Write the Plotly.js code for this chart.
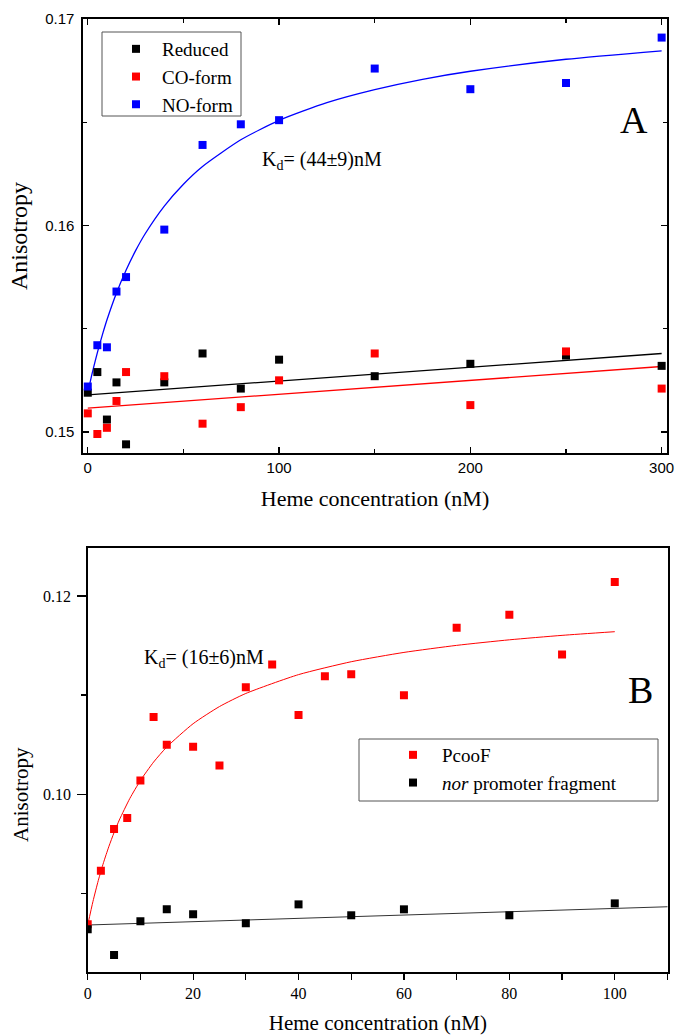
<!DOCTYPE html>
<html>
<head>
<meta charset="utf-8">
<script src="https://cdn.plot.ly/plotly-3.0.1.min.js"></script>
<style>html,body{margin:0;padding:0;background:#fff}#chart{width:678px;height:1036px}</style>
</head>
<body>
<div id="chart"></div>
<script>
// ---------- Panel A data ----------
const concA = [0, 5, 10, 15, 20, 40, 60, 80, 100, 150, 200, 250, 300];
const reduced = [0.1519, 0.1529, 0.1506, 0.1524, 0.1494, 0.1524, 0.1538, 0.1521, 0.1535, 0.1527, 0.1533, 0.1537, 0.1532];
const coForm  = [0.1509, 0.1499, 0.1502, 0.1515, 0.1529, 0.1527, 0.1504, 0.1512, 0.1525, 0.1538, 0.1513, 0.1539, 0.1521];
const noForm  = [0.1522, 0.1542, 0.1541, 0.1568, 0.1575, 0.1598, 0.1639, 0.1649, 0.1651, 0.1676, 0.1666, 0.1669, 0.1691];
// fitted lines
const lineAx = [0, 300];
const reducedFit = [0.1518, 0.1538];
const coFit = [0.15115, 0.15317];
const noFitX = [0, 2, 4, 6, 8, 10, 15, 20, 25, 30, 40, 50, 60, 80, 100, 125, 150, 175, 200, 250, 300];
const noFitY = [0.1519, 0.15273, 0.15348, 0.15418, 0.15482, 0.15542, 0.15673, 0.15783, 0.15878, 0.15960, 0.16094, 0.16200, 0.16286, 0.16415, 0.16509, 0.16595, 0.16658, 0.16708, 0.16747, 0.16805, 0.16846];

// ---------- Panel B data ----------
const concPcooF = [0, 2.5, 5, 7.5, 10, 12.5, 15, 20, 25, 30, 35, 40, 45, 50, 60, 70, 80, 90, 100];
const pcooF = [0.0869, 0.0923, 0.0965, 0.0976, 0.1014, 0.1078, 0.1050, 0.1048, 0.1029, 0.1108, 0.1131, 0.1080, 0.1119, 0.1121, 0.1100, 0.1168, 0.1181, 0.1141, 0.1214];
const concNor = [0, 5, 10, 15, 20, 30, 40, 50, 60, 80, 100];
const norFrag = [0.0864, 0.0838, 0.0872, 0.0884, 0.0879, 0.0870, 0.0889, 0.0878, 0.0884, 0.0878, 0.0890];
const pcooFitX = [0, 1, 2, 3, 4, 5, 6, 8, 10, 12.5, 15, 20, 25, 30, 40, 50, 60, 70, 80, 90, 100];
const pcooFitY = [0.08680, 0.08920, 0.09129, 0.09311, 0.09471, 0.09614, 0.09741, 0.09959, 0.10139, 0.10325, 0.10477, 0.10712, 0.10885, 0.11017, 0.11207, 0.11337, 0.11431, 0.11502, 0.11558, 0.11603, 0.11640];
const norLineX = [0, 110];
const norFit = [0.08682, 0.08866];

const SERIF = '"Liberation Serif", "Times New Roman", serif';
const SANS = '"Liberation Sans", Arial, sans-serif';
const BLUE = '#0000ff', RED = '#ff0000', BLACK = '#000000';

function line(x, y, color, xa, ya, w) {
  return {x: x, y: y, type: 'scatter', mode: 'lines', line: {color: color, width: w || 1.3, shape: 'spline', smoothing: 0.6},
          xaxis: xa, yaxis: ya, showlegend: false, hoverinfo: 'skip'};
}
function pts(x, y, color, name, xa, ya, leg) {
  return {x: x, y: y, type: 'scatter', mode: 'markers', name: name,
          marker: {symbol: 'square', size: 8, color: color}, xaxis: xa, yaxis: ya, legend: leg};
}

const data = [
  line(lineAx, reducedFit, BLACK, 'x', 'y'),
  line(lineAx, coFit, RED, 'x', 'y'),
  line(noFitX, noFitY, BLUE, 'x', 'y'),
  pts(concA, reduced, BLACK, 'Reduced', 'x', 'y', 'legend'),
  pts(concA, coForm, RED, 'CO-form', 'x', 'y', 'legend'),
  pts(concA, noForm, BLUE, 'NO-form', 'x', 'y', 'legend'),
  line(norLineX, norFit, '#333333', 'x2', 'y2', 1),
  line(pcooFitX, pcooFitY, RED, 'x2', 'y2', 1),
  pts(concPcooF, pcooF, RED, 'PcooF', 'x2', 'y2', 'legend2'),
  pts(concNor, norFrag, BLACK, '<i>nor</i> promoter fragment', 'x2', 'y2', 'legend2')
];

const W = 678, H = 1036;
const px = v => v / W, py = v => 1 - v / H;
const layout = {
  width: W, height: H,
  margin: {l: 0, r: 0, t: 0, b: 0},
  paper_bgcolor: '#ffffff', plot_bgcolor: '#ffffff',
  font: {family: SERIF, color: '#000'},
  xaxis: {
    domain: [px(83), px(667)], anchor: 'y', range: [-2.5, 302.8],
    tick0: 0, dtick: 100, ticks: 'inside', ticklen: 6, tickwidth: 1.2, tickcolor: '#000',
    minor: {dtick: 50, ticks: 'inside', ticklen: 4, tickwidth: 1.2, tickcolor: '#000'},
    showline: true, linewidth: 1.6, linecolor: '#000', mirror: 'ticks',
    showgrid: false, zeroline: false,
    tickfont: {family: SANS, size: 15, color: '#000'},
    title: {text: 'Heme concentration (nM)', font: {family: SERIF, size: 22, color: '#000'}, standoff: 16}
  },
  yaxis: {
    domain: [py(453), py(19)], anchor: 'x', range: [0.14898, 0.1700],
    tick0: 0, dtick: 0.01, tickformat: '.2f', ticks: 'inside', ticklen: 6, tickwidth: 1.2, tickcolor: '#000',
    minor: {dtick: 0.005, ticks: 'inside', ticklen: 4, tickwidth: 1.2, tickcolor: '#000'},
    showline: true, linewidth: 1.6, linecolor: '#000', mirror: 'ticks',
    showgrid: false, zeroline: false, ticklabelstandoff: 4,
    tickfont: {family: SANS, size: 15, color: '#000'},
    title: {text: 'Anisotropy', font: {family: SERIF, size: 24, color: '#000'}, standoff: 11}
  },
  xaxis2: {
    domain: [px(87.7), px(668)], anchor: 'y2', range: [0, 110.1],
    tick0: 0, dtick: 20, ticks: 'outside', ticklen: 6, tickwidth: 1.2, tickcolor: '#000',
    minor: {dtick: 10, ticks: 'outside', ticklen: 6, tickwidth: 1.2, tickcolor: '#000'},
    showline: true, linewidth: 1.6, linecolor: '#000', mirror: true,
    showgrid: false, zeroline: false,
    tickfont: {family: SERIF, size: 16, color: '#000'},
    title: {text: 'Heme concentration (nM)', font: {family: SERIF, size: 21, color: '#000'}, standoff: 14}
  },
  yaxis2: {
    domain: [py(972), py(547.7)], anchor: 'x2', range: [0.08208, 0.12487],
    tick0: 0, dtick: 0.02, tickformat: '.2f', ticks: 'outside', ticklen: 9, tickwidth: 1.4, tickcolor: '#000',
    minor: {dtick: 0.01, ticks: 'outside', ticklen: 5, tickwidth: 1.4, tickcolor: '#000'},
    showline: true, linewidth: 1.6, linecolor: '#000', mirror: true,
    showgrid: false, zeroline: false, ticklabelstandoff: 3,
    tickfont: {family: SERIF, size: 16, color: '#000'}
  },
  legend: {
    x: px(110), y: py(30), xanchor: 'left', yanchor: 'top',
    bgcolor: 'rgba(0,0,0,0)', borderwidth: 0, itemwidth: 42,
    font: {family: SERIF, size: 19, color: '#000'}, tracegroupgap: 0
  },
  legend2: {
    x: px(384), y: py(736), xanchor: 'left', yanchor: 'top',
    bgcolor: 'rgba(0,0,0,0)', borderwidth: 0, itemwidth: 48,
    font: {family: SERIF, size: 19, color: '#000'}, tracegroupgap: 0
  },
  shapes: [
    {type: 'rect', xref: 'paper', yref: 'paper', x0: px(102), x1: px(241), y0: py(116), y1: py(32),
     line: {color: '#555', width: 1}, fillcolor: 'rgba(0,0,0,0)', layer: 'above'},
    {type: 'rect', xref: 'paper', yref: 'paper', x0: px(359), x1: px(658), y0: py(801), y1: py(739),
     line: {color: '#555', width: 1}, fillcolor: 'rgba(0,0,0,0)', layer: 'above'}
  ],
  annotations: [
    {xref: 'paper', yref: 'paper', x: px(260), y: py(160), xanchor: 'left', yanchor: 'middle', showarrow: false,
     text: 'K<sub>d</sub>= (44±9)nM', font: {family: SERIF, size: 20, color: '#000'}},
    {xref: 'paper', yref: 'paper', x: px(634), y: py(120), xanchor: 'center', yanchor: 'middle', showarrow: false,
     text: 'A', font: {family: SERIF, size: 38, color: '#000'}},
    {xref: 'paper', yref: 'paper', x: px(142), y: py(658), xanchor: 'left', yanchor: 'middle', showarrow: false,
     text: 'K<sub>d</sub>= (16±6)nM', font: {family: SERIF, size: 20, color: '#000'}},
    {xref: 'paper', yref: 'paper', x: px(640), y: py(690), xanchor: 'center', yanchor: 'middle', showarrow: false,
     text: 'B', font: {family: SERIF, size: 38, color: '#000'}},
    {xref: 'paper', yref: 'paper', x: px(21), y: py(795), xanchor: 'center', yanchor: 'middle', showarrow: false,
     textangle: -90, text: 'Anisotropy', font: {family: SERIF, size: 21, color: '#000'}}
  ]
};

Plotly.newPlot('chart', data, layout, {staticPlot: true, displayModeBar: false});
</script>
</body>
</html>
